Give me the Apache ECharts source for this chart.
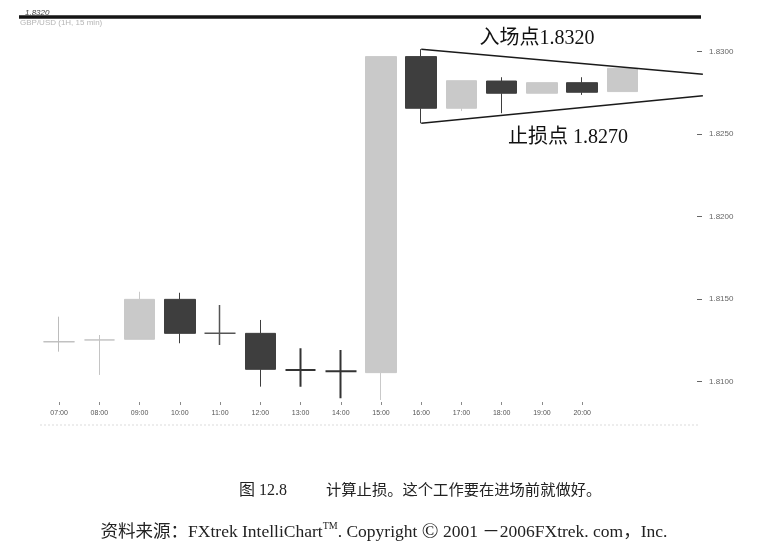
<!DOCTYPE html>
<html>
<head>
<meta charset="utf-8">
<title>GBP/USD 1H</title>
<script src="https://cdn.jsdelivr.net/npm/echarts@6/dist/echarts.min.js"></script>
<style>
  html, body { margin: 0; padding: 0; background: #ffffff; }
  #chart { width: 767px; height: 557px; }
</style>
</head>
<body>
<div id="chart"></div>
<script>
// Hourly categories (the last three slots carry no label)
const hours = ['07:00', '08:00', '09:00', '10:00', '11:00', '12:00', '13:00',
               '14:00', '15:00', '16:00', '17:00', '18:00', '19:00', '20:00', '', '', ''];

// OHLC per hour
const opens  = [1.81242, 1.81253, 1.81257, 1.81499, 1.81293, 1.81293, 1.81071, 1.81063,
                1.81055, 1.82970, 1.82657, 1.82822, 1.82748, 1.82812, 1.82758];
const closes = [1.81242, 1.81253, 1.81499, 1.81293, 1.81293, 1.81075, 1.81071, 1.81063,
                1.82970, 1.82657, 1.82824, 1.82748, 1.82812, 1.82754, 1.82899];
const lows   = [1.81182, 1.81041, 1.81257, 1.81233, 1.81222, 1.80970, 1.80970, 1.80899,
                1.80889, 1.82566, 1.82640, 1.82627, 1.82748, 1.82738, 1.82758];
const highs  = [1.81394, 1.81283, 1.81545, 1.81539, 1.81465, 1.81374, 1.81202, 1.81192,
                1.82970, 1.83015, 1.82824, 1.82845, 1.82812, 1.82845, 1.82899];

// Price axis labels
const priceTicks = [1.8100, 1.8150, 1.8200, 1.8250, 1.8300];

// Converging entry / stop lines, from the 16:00 candle outwards
const entryLine = [[9, 1.83015], [16, 1.82863]];
const stopLine  = [[9, 1.82566], [16, 1.82733]];

const entryText = '入场点1.8320';
const stopText  = '止损点 1.8270';
const captionNo = '图 12.8';
const caption   = '计算止损。这个工作要在进场前就做好。';
const sourceA   = '资料来源：FXtrek IntelliChart';
const sourceB   = '. Copyright ';
const sourceC   = '2001 －2006FXtrek. com，Inc.';

const UP = '#c9c9c9';
const DOWN = '#3e3e3e';

// Special looks for the flat (doji) hours
const dojiStyle = {
  0: { c: '#bcbcbc', w: 1 },
  1: { c: '#c4c4c4', w: 1 },
  4: { c: '#555555', w: 1.5 },
  6: { c: '#333333', w: 2 },
  7: { c: '#333333', w: 2 }
};

const candles = opens.map((o, i) => {
  const item = { value: [o, closes[i], lows[i], highs[i]] };
  const d = dojiStyle[i];
  if (d) {
    item.itemStyle = {
      color: d.c, color0: d.c,
      borderColor: d.c, borderColor0: d.c, borderColorDoji: d.c,
      borderWidth: d.w
    };
  }
  return item;
});

const chart = echarts.init(document.getElementById('chart'), null, { renderer: 'canvas' });

const serifCJK = '"Liberation Serif", "Times New Roman", "Noto Sans CJK SC", serif';

chart.setOption({
  animation: false,
  backgroundColor: '#ffffff',
  grid: {
    left: 39, right: 44, top: 17, bottom: 155,
    outerBoundsMode: 'none'
  },
  xAxis: {
    type: 'category',
    data: hours,
    boundaryGap: true,
    axisLine: { show: false },
    axisTick: {
      show: true,
      alignWithLabel: true,
      length: 3,
      interval: (idx, val) => val !== '',
      lineStyle: { color: '#8a8a8a', width: 1 }
    },
    axisLabel: {
      interval: 0,
      fontSize: 7,
      color: '#555555',
      margin: 8,
      fontFamily: '"Liberation Sans", Arial, sans-serif'
    },
    splitLine: { show: false }
  },
  yAxis: {
    type: 'value',
    position: 'right',
    offset: -26,
    min: 1.80877,
    max: 1.83210,
    scale: true,
    axisLine: { show: false },
    splitLine: { show: false },
    axisTick: {
      show: true,
      customValues: priceTicks,
      length: 5,
      lineStyle: { color: '#666666', width: 1 }
    },
    axisLabel: {
      customValues: priceTicks,
      formatter: v => Number(v).toFixed(4),
      fontSize: 8,
      color: '#666666',
      margin: 12,
      fontFamily: '"Liberation Sans", Arial, sans-serif'
    }
  },
  series: [
    {
      type: 'candlestick',
      data: candles,
      barWidth: 31,
      clip: false,
      itemStyle: {
        color: UP, color0: DOWN,
        borderColor: UP, borderColor0: DOWN, borderColorDoji: DOWN,
        borderWidth: 1
      },
      z: 2
    },
    {
      type: 'line',
      data: entryLine,
      symbol: 'none',
      clip: false,
      lineStyle: { color: '#1a1a1a', width: 1.6 },
      z: 3
    },
    {
      type: 'line',
      data: stopLine,
      symbol: 'none',
      clip: false,
      lineStyle: { color: '#1a1a1a', width: 1.6 },
      z: 3
    }
  ],
  graphic: [
    // heavy rule across the top of the price panel
    { type: 'line', shape: { x1: 19, y1: 17, x2: 701, y2: 17 },
      style: { stroke: '#151515', lineWidth: 3.5 }, z: 5 },
    { type: 'text', left: 25, top: 9,
      style: { text: '1.8320', fontSize: 8, fill: '#444', fontStyle: 'italic',
               fontFamily: '"Liberation Sans", Arial, sans-serif' }, z: 6 },
    { type: 'text', left: 20, top: 19,
      style: { text: 'GBP/USD (1H, 15 min)', fontSize: 8, fill: '#b5b5b5',
               fontFamily: '"Liberation Sans", Arial, sans-serif' }, z: 6 },
    // faint dotted rule below the time axis
    { type: 'line', shape: { x1: 40, y1: 425, x2: 700, y2: 425 },
      style: { stroke: '#dcdcdc', lineWidth: 1, lineDash: [2, 2] }, z: 1 },
    // annotations
    { type: 'text', x: 537, y: 39,
      style: { text: entryText, fontSize: 20, fill: '#111', align: 'center',
               verticalAlign: 'middle', fontFamily: serifCJK }, z: 6 },
    { type: 'text', x: 568, y: 138,
      style: { text: stopText, fontSize: 20, fill: '#111', align: 'center',
               verticalAlign: 'middle', fontFamily: serifCJK }, z: 6 },
    // caption
    { type: 'text', x: 239, y: 491,
      style: { text: captionNo, fontSize: 16, fill: '#222', align: 'left',
               verticalAlign: 'middle', fontFamily: serifCJK }, z: 6 },
    { type: 'text', x: 326, y: 491,
      style: { text: caption, fontSize: 15.3, fill: '#222', align: 'left',
               verticalAlign: 'middle', fontFamily: serifCJK }, z: 6 },
    // source line
    { type: 'text', x: 384, y: 532,
      style: {
        text: '{a|' + sourceA + '}{s|TM}{a|' + sourceB + '}{c|©}{a| ' + sourceC + '}',
        align: 'center', verticalAlign: 'middle',
        rich: {
          a: { fontSize: 17.5, fill: '#222', fontFamily: serifCJK },
          s: { fontSize: 10, fill: '#222', fontFamily: serifCJK, verticalAlign: 'top', padding: [0, 0, 8, 0] },
          c: { fontSize: 22, fill: '#222', fontFamily: serifCJK }
        }
      }, z: 6 }
  ]
});
</script>
</body>
</html>
